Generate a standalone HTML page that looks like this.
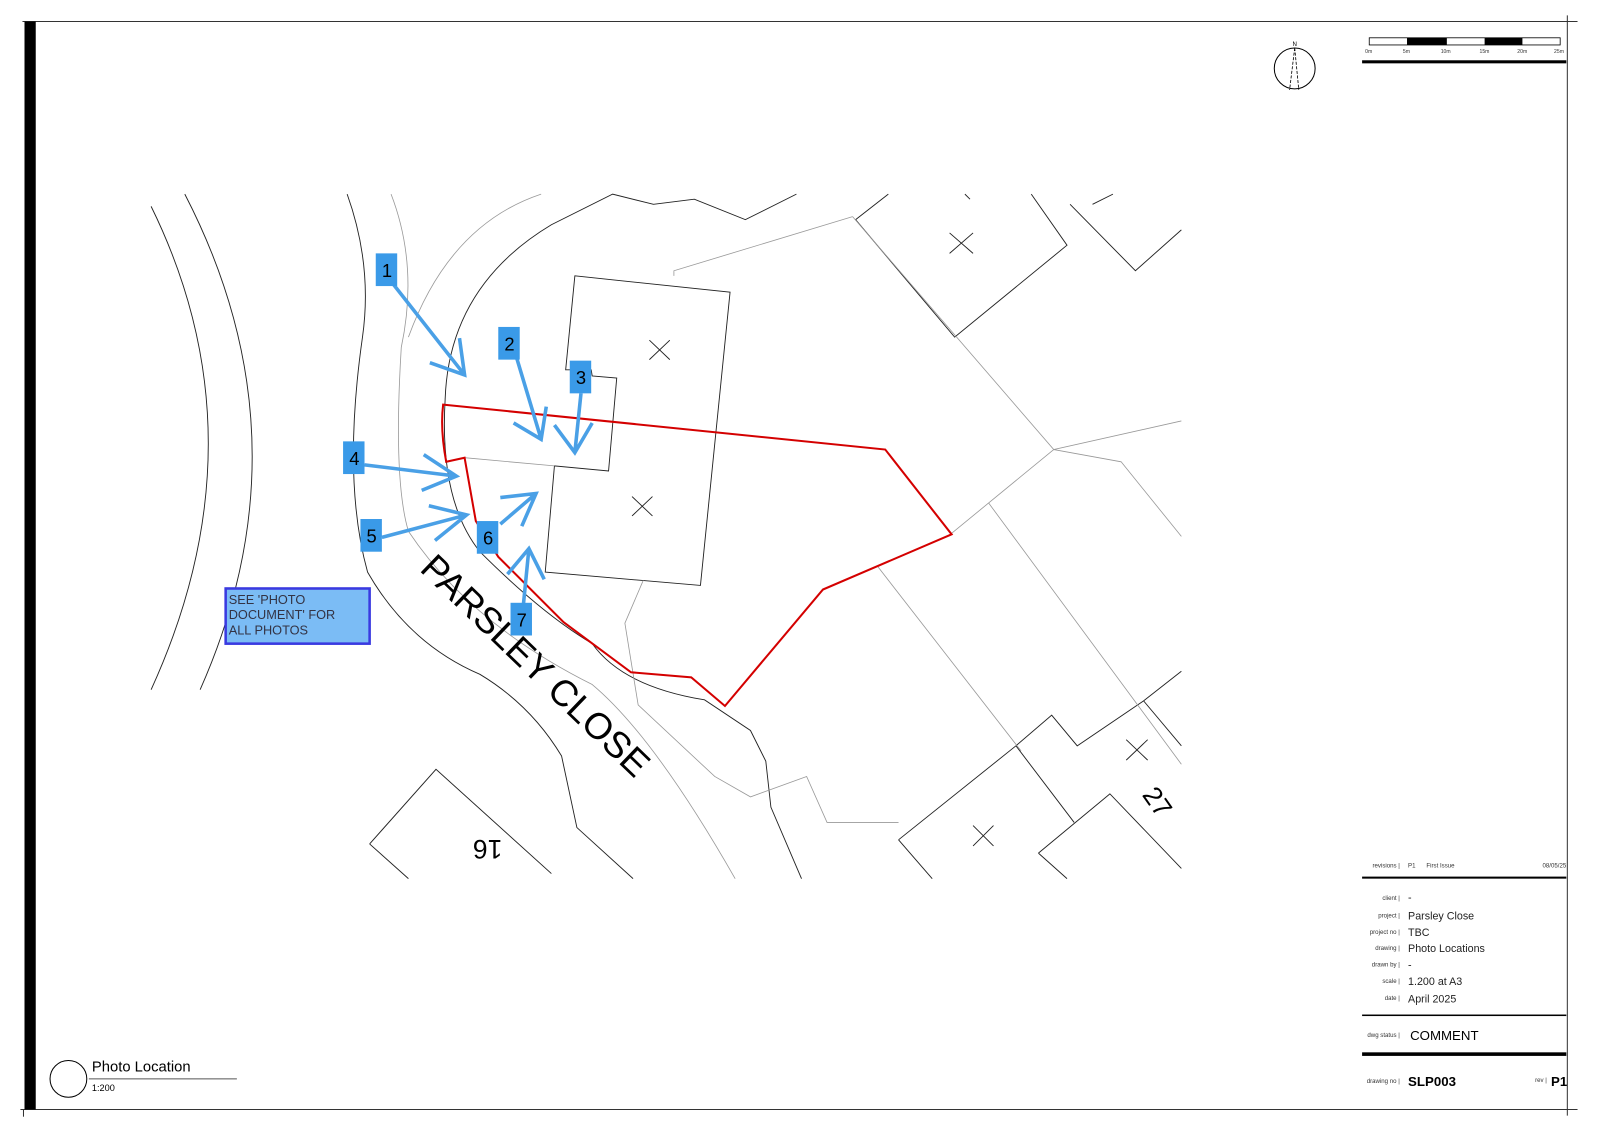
<!DOCTYPE html>
<html><head><meta charset="utf-8"><style>
html,body{margin:0;padding:0;background:#fff;width:1600px;height:1131px;overflow:hidden}
svg{display:block}
text{font-family:"Liberation Sans",Arial,sans-serif}
</style></head><body>
<svg width="1600" height="1131" viewBox="0 0 1567 1107" preserveAspectRatio="none" xmlns="http://www.w3.org/2000/svg">
<rect width="1567" height="1107" fill="#fff"/>
<!-- frame -->
<line x1="22" y1="21" x2="1545" y2="21" stroke="#333" stroke-width="1"/>
<line x1="20" y1="1086" x2="1545" y2="1086" stroke="#333" stroke-width="1"/>
<line x1="1535" y1="15" x2="1535" y2="1092" stroke="#333" stroke-width="1"/>
<rect x="24" y="21" width="11" height="1065" fill="#000"/>
<line x1="23" y1="1086" x2="23" y2="1093" stroke="#333"/>
<!-- north -->
<circle cx="1268" cy="67" r="20" fill="none" stroke="#000" stroke-width="1"/>
<text x="1268" y="45" font-size="6" text-anchor="middle">N</text>
<path d="M1268 47 L1263 88 M1268 47 L1272 88" stroke="#000" stroke-width="0.8" stroke-dasharray="3,1.5" fill="none"/>
<!-- scale bar -->
<rect x="1341" y="37" width="187" height="7" fill="#fff" stroke="#000" stroke-width="0.8"/>
<rect x="1378" y="37" width="39" height="7" fill="#000"/>
<rect x="1454" y="37" width="37" height="7" fill="#000"/>
<g font-size="5" fill="#333"><text x="1337" y="52">0m</text><text x="1374" y="52">5m</text><text x="1411" y="52">10m</text><text x="1449" y="52">15m</text><text x="1486" y="52">20m</text><text x="1522" y="52">25m</text></g>
<rect x="1334" y="59" width="200" height="3" fill="#000"/>
<!-- map -->
<g fill="none" stroke="#222" stroke-width="0.9">
<path d="M148 202 Q260 430 148 675"/>
<path d="M181 190 Q305 430 196 675"/>
<path d="M340 190 Q365 260 355 330 Q335 470 360 560 Q400 630 470 660 Q520 690 550 740 L565 810 L620 860"/>
<path d="M436 390 Q440 280 540 220 L600 190 L640 200 L680 195 L730 215 L780 190"/>
<path d="M436 390 Q430 490 470 540 Q530 600 580 630 Q610 672 690 685 L735 715 L750 745 L755 790 L785 860"/>
<path d="M838 215 L870 190 M838 215 L935 330 L1045 240 L1010 190"/>
<path d="M1048 200 L1112 265 L1157 225"/>
<path d="M945 190 L950 195 M1070 200 L1090 190"/>
<path d="M563 270 L715 286 L686 573 L534 560 L543 456 L596 461 L604 370 L580 368 L579 362 L554 362 Z"/>
<path d="M880 822 L995 730 L1030 700 L1055 730 L1120 686 L1157 657 M995 730 L1052 805 M1120 686 L1157 730 M1017 835 L1087 777 L1157 850 M880 822 L913 860 M1017 835 L1045 860 M362 826 L427 753 L540 855 M362 826 L400 860"/>
<path d="M930 228 L953 248 M953 228 L930 248 M636 333 L656 352 M656 333 L636 352 M619 486 L639 505 M639 486 L619 505 M1103 724 L1124 744 M1124 724 L1103 744 M953 808 L973 828 M973 808 L953 828"/>
</g>
<g fill="none" stroke="#999" stroke-width="0.8">
<path d="M383 190 Q410 260 393 340 Q385 470 400 520 Q460 610 580 670 Q640 720 720 860"/>
<path d="M530 190 Q440 220 400 330"/>
<path d="M660 270 L660 265 L835 212"/>
<path d="M835 212 L1032 440 L1157 412 M1032 440 L1098 452 L1157 525 M1032 440 L932 522 M968 492 L1157 748 M860 555 L1000 735"/>
<path d="M455 448 L543 456 M630 568 L612 610 L625 690 L700 760 L735 780 L790 760 L810 805 L880 805"/>
</g>
<!-- red boundary -->
<path d="M434 396 L867 440 L932 523 L806 577 L710 691 L677 663 L618 658 L552 609 L488 545 L466 510 L455 448 L437 452 Q431 420 434 396 Z" fill="none" stroke="#d40000" stroke-width="2"/>
<!-- text -->
<text x="0" y="0" font-size="36" transform="translate(410,558) rotate(44)">PARSLEY CLOSE</text>
<text x="0" y="0" font-size="26" transform="translate(492,822) rotate(180)">16</text>
<text x="0" y="0" font-size="26" transform="translate(1118,778) rotate(55)">27</text>
<!-- note -->
<rect x="221" y="576" width="141" height="54" fill="#7bbcf5" stroke="#3a3ae0" stroke-width="2.5"/>
<g font-size="12.5" fill="#334"><text x="224" y="591">SEE 'PHOTO</text><text x="224" y="606">DOCUMENT' FOR</text><text x="224" y="621">ALL PHOTOS</text></g>
<!-- arrows -->
<g stroke="#4aa0e6" stroke-width="3.5" fill="none" stroke-linecap="butt">
<path d="M385 278 L455 367 M421 355 L455 367 L450 331"/>
<path d="M505 347 L530 430 M503 414 L530 430 L535 398"/>
<path d="M569 385 L563 443 M543 416 L563 443 L580 414"/>
<path d="M357 455 L447 466 M415 445 L447 466 L413 480"/>
<path d="M374 526 L457 504 M420 495 L457 504 L426 529"/>
<path d="M490 513 L525 483 M490 487 L525 483 L511 515"/>
<path d="M512 598 L518 537 M497 562 L518 537 L533 567"/>
</g>
<g fill="#3a9ae8">
<rect x="368" y="248" width="21" height="32"/><rect x="488" y="320" width="21" height="32"/><rect x="558" y="353" width="21" height="32"/><rect x="336" y="432" width="21" height="32"/><rect x="353" y="508" width="21" height="32"/><rect x="467" y="510" width="21" height="32"/><rect x="500" y="590" width="21" height="32"/>
</g>
<g font-size="18" fill="#000" text-anchor="middle">
<text x="379" y="271">1</text><text x="499" y="343">2</text><text x="569" y="376">3</text><text x="347" y="455">4</text><text x="364" y="531">5</text><text x="478" y="533">6</text><text x="511" y="613">7</text>
</g>
<!-- photo location label -->
<circle cx="67" cy="1056" r="18" fill="none" stroke="#000" stroke-width="1"/>
<text x="90" y="1049" font-size="14.5">Photo Location</text>
<line x1="87" y1="1056" x2="232" y2="1056" stroke="#555"/>
<text x="90" y="1068" font-size="9">1:200</text>
<!-- title block -->
<g font-size="6" fill="#333"><text x="1371" y="849" text-anchor="end">revisions |</text><text x="1379" y="849">P1</text><text x="1397" y="849">First Issue</text><text x="1534" y="849" text-anchor="end">08/05/25</text></g>
<rect x="1334" y="858" width="200" height="2" fill="#000"/>
<g font-size="6" fill="#333" text-anchor="end"><text x="1371" y="881">client |</text><text x="1371" y="898">project |</text><text x="1371" y="914">project no |</text><text x="1371" y="930">drawing |</text><text x="1371" y="946">drawn by |</text><text x="1371" y="962">scale |</text><text x="1371" y="979">date |</text><text x="1371" y="1015">dwg status |</text><text x="1371" y="1060">drawing no |</text><text x="1515" y="1059">rev |</text></g>
<g font-size="10.5" fill="#222"><text x="1379" y="882">-</text><text x="1379" y="900">Parsley Close</text><text x="1379" y="916">TBC</text><text x="1379" y="932">Photo Locations</text><text x="1379" y="948">-</text><text x="1379" y="964">1.200 at A3</text><text x="1379" y="981">April 2025</text></g>
<rect x="1334" y="993" width="200" height="1.5" fill="#000"/>
<text x="1381" y="1018" font-size="13" fill="#000">COMMENT</text>
<rect x="1334" y="1030" width="200" height="3.5" fill="#000"/>
<text x="1379" y="1063" font-size="13" font-weight="bold">SLP003</text>
<text x="1519" y="1063" font-size="13" font-weight="bold">P1</text>
</svg>
</body></html>
